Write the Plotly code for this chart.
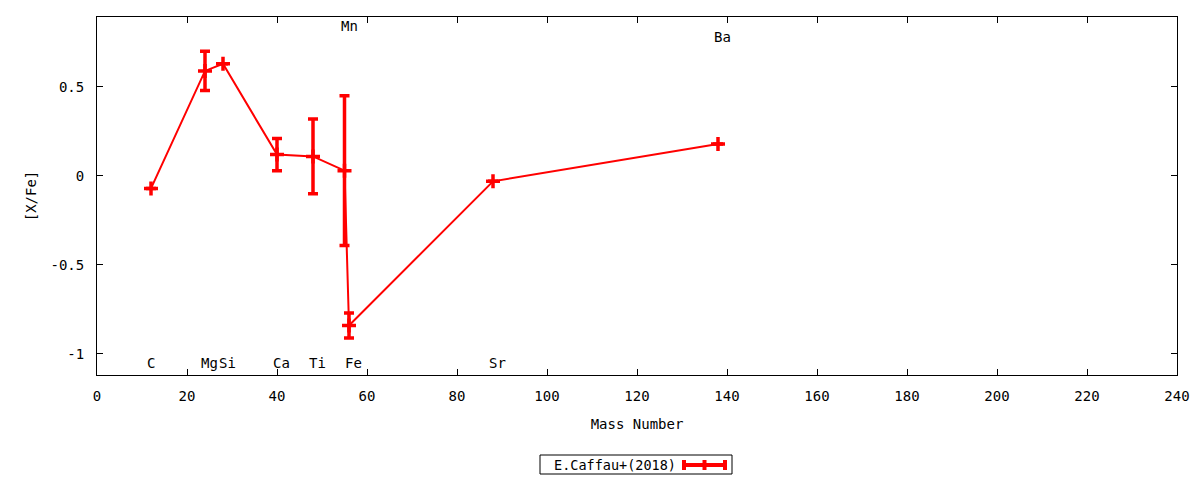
import plotly.graph_objects as go

# Mass number, [X/Fe] and errors (E.Caffau+ 2018)
elements = ['C', 'Mg', 'Si', 'Ca', 'Ti', 'Mn', 'Fe', 'Sr', 'Ba']
mass_number = [12, 24, 28, 40, 48, 55, 56, 88, 138]
x_fe = [-0.07, 0.59, 0.63, 0.12, 0.11, 0.03, -0.84, -0.03, 0.18]
x_fe_err = [0, 0.11, 0, 0.09, 0.21, 0.42, 0.07, 0, 0]

# label heights for element names
label_y = [-1.05, -1.05, -1.05, -1.05, -1.05, 0.84, -1.05, -1.05, 0.78]

xticks = [0, 20, 40, 60, 80, 100, 120, 140, 160, 180, 200, 220, 240]
yticks = [-1, -0.5, 0, 0.5]
yticklabels = ['-1', '-0.5', '0', '0.5']

RED = '#ff0000'
FONT = 'DejaVu Sans Mono'
FS = 14

fig = go.Figure()
fig.add_trace(go.Scatter(
    x=mass_number, y=x_fe, mode='lines+markers',
    name='E.Caffau+(2018)', showlegend=False,
    line=dict(color=RED, width=2),
    marker=dict(symbol='cross-thin', size=10, line=dict(color=RED, width=3.5)),
    error_y=dict(type='data', array=x_fe_err, visible=True,
                 color=RED, thickness=3.5, width=5),
))

for el, a, ly in zip(elements, mass_number, label_y):
    fig.add_annotation(x=a, y=ly, text=el, showarrow=False,
                       xanchor='left', xshift=-6, yanchor='middle',
                       font=dict(family=FONT, size=FS, color='black'))

# hand-made gnuplot style key (sample on the right of the text)
fig.add_shape(type='rect', xref='paper', yref='paper',
              x0=(540 - 97) / 1080, x1=(732 - 97) / 1080,
              y0=-(455 - 375) / 358, y1=-(474 - 375) / 358,
              line=dict(color='black', width=1))
fig.add_annotation(xref='paper', yref='paper',
                   x=(552 - 97) / 1080, y=-(465 - 375) / 358,
                   text='E.Caffau+(2018)', showarrow=False,
                   xanchor='left', yanchor='middle',
                   font=dict(family=FONT, size=13.5, color='black'))
kx0, kx1, ky = (684 - 97) / 1080, (725 - 97) / 1080, -(465 - 375) / 358
fig.add_shape(type='line', xref='paper', yref='paper', x0=kx0, x1=kx1, y0=ky, y1=ky,
              line=dict(color=RED, width=4))
for kx in (kx0, (kx0 + kx1) / 2, kx1):
    fig.add_shape(type='line', xref='paper', yref='paper', x0=kx, x1=kx,
                  y0=ky - 5 / 358, y1=ky + 5 / 358, line=dict(color=RED, width=4))

# page body has an 8px margin, so the figure is 8px smaller than the window
fig.update_layout(
    width=1192, height=472,
    margin=dict(l=89, r=23, t=9, b=105),
    plot_bgcolor='white', paper_bgcolor='white',
    font=dict(family=FONT, size=FS, color='black'),
    showlegend=False,
)
fig.update_xaxes(range=[0, 240], tickvals=xticks, ticks='inside', ticklen=6,
                 tickcolor='black', showline=True, linecolor='black', linewidth=1,
                 mirror='ticks', showgrid=False, zeroline=False,
                 tickfont=dict(size=FS, color='black'),
                 title=dict(text='Mass Number', standoff=16,
                            font=dict(size=FS, color='black')),
                 ticklabelstandoff=8)
fig.update_yaxes(range=[-1.118, 0.893], tickvals=yticks, ticktext=yticklabels,
                 ticks='inside', ticklen=6, tickcolor='black', showline=True,
                 linecolor='black', linewidth=1, mirror='ticks', showgrid=False,
                 zeroline=False, tickfont=dict(size=FS, color='black'),
                 title=dict(text='[X/Fe]', standoff=10,
                            font=dict(size=FS, color='black')),
                 ticklabelstandoff=9)

fig.write_html('out.html')
